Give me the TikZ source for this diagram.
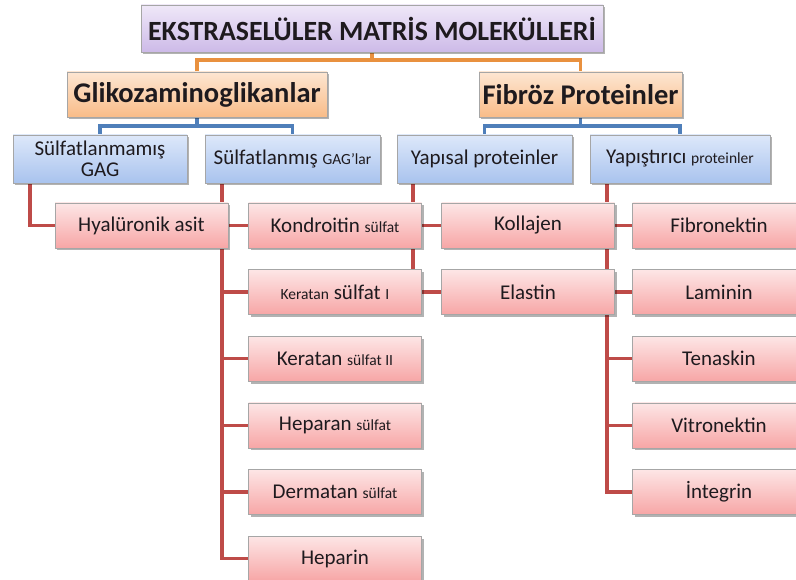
\documentclass[tikz,border=0pt]{standalone}
\usepackage{fontspec}
\setmainfont{Carlito}
\usetikzlibrary{positioning,
	shadows,
	backgrounds}
\definecolor{baslikust}{HTML}{EFE8F8}
\definecolor{baslikalt}{HTML}{CDBAE8}
\definecolor{turuncuust}{HTML}{FDE6D2}
\definecolor{turuncualt}{HTML}{F9BC88}
\definecolor{maviust}{HTML}{DDE8FA}
\definecolor{mavialt}{HTML}{A9C3EE}
\definecolor{pembeust}{HTML}{FDE6E6}
\definecolor{pembealt}{HTML}{F7A6A6}
\definecolor{turuncucizgi}{HTML}{E9913F}
\definecolor{mavicizgi}{HTML}{4F7FBA}
\definecolor{kirmizicizgi}{HTML}{BE4B48}
\definecolor{yazi}{HTML}{1E1A1E}
\newcommand{\kucuk}[1]{{\fontsize{15.5}{17}\selectfont #1}}

\begin{document}
\begin{tikzpicture}[x=1pt, y=-1pt,
	kutu/.style={draw=gray!70, line width=0.6pt, inner sep=0pt, text=yazi,
		drop shadow={shadow xshift=2pt, shadow yshift=-2.5pt, fill=black, opacity=0.3}},
	baslikkutu/.style={kutu, top color=baslikust, bottom color=baslikalt,
		font=\bfseries\fontsize{27.8}{29}\selectfont},
	turuncukutu/.style={kutu, top color=turuncuust, bottom color=turuncualt,
		minimum height=45pt, font=\bfseries\fontsize{28.5}{30}\selectfont},
	mavikutu/.style={kutu, top color=maviust, bottom color=mavialt,
		minimum height=48pt, align=center, font=\fontsize{21}{20.5}\selectfont},
	pembekutu/.style={kutu, top color=pembeust, bottom color=pembealt,
		minimum width=173pt, minimum height=45pt, font=\fontsize{21}{22}\selectfont},
	turuncubag/.style={draw=turuncucizgi, line width=3.6pt},
	mavibag/.style={draw=mavicizgi, line width=3.6pt},
	kirmizibag/.style={draw=kirmizicizgi, line width=3.6pt},
	node distance=21pt]
\useasboundingbox (0,0) rectangle (796,580);

\node (baslik) [baslikkutu, minimum width=462pt, minimum height=47pt] at (372,28.5) {EKSTRASELÜLER MATRİS MOLEKÜLLERİ};
\node (gag) [turuncukutu, minimum width=260pt] at (197,94.5) {Glikozaminoglikanlar};
\node (fibroz) [turuncukutu, minimum width=203pt] at (580.5,94.5) {Fibröz Proteinler};

\node (sulfatsiz) [mavikutu, minimum width=174pt] at (100,159) {Sülfatlanmamış\\GAG};
\node (sulfatli) [mavikutu, minimum width=175pt] at (292.5,159) {Sülfatlanmış \kucuk{GAG'lar}};
\node (yapisal) [mavikutu, minimum width=175pt] at (484.5,159) {Yapısal proteinler};
\node (yapistirici) [mavikutu, minimum width=180pt] at (680,159) {Yapıştırıcı \kucuk{proteinler}};

\node (hyaluronik) [pembekutu] at (141.5,225.5) {Hyalüronik asit};

\node (kondroitin) [pembekutu] at (335,225.5) {Kondroitin \kucuk{sülfat}};
\node (keratanI) [pembekutu, below=of kondroitin] {\kucuk{Keratan} sülfat \kucuk{I}};
\node (keratanII) [pembekutu, below=of keratanI] {Keratan \kucuk{sülfat II}};
\node (heparan) [pembekutu, below=of keratanII] {Heparan \kucuk{sülfat}};
\node (dermatan) [pembekutu, below=of heparan] {Dermatan \kucuk{sülfat}};
\node (heparin) [pembekutu, below=of dermatan] {Heparin};

\node (kollajen) [pembekutu] at (528,225.5) {Kollajen};
\node (elastin) [pembekutu, below=of kollajen] {Elastin};

\node (fibronektin) [pembekutu] at (719,225.5) {Fibronektin};
\node (laminin) [pembekutu, below=of fibronektin] {Laminin};
\node (tenaskin) [pembekutu, below=of laminin] {Tenaskin};
\node (vitronektin) [pembekutu, below=of tenaskin] {Vitronektin};
\node (integrin) [pembekutu, below=of vitronektin] {İntegrin};

\begin{scope}[on background layer]
\draw[turuncubag] (baslik.south) -- ++(0,8) -| (gag.north);
\draw[turuncubag] (baslik.south) -- ++(0,8) -| (fibroz.north);
\draw[mavibag] (gag.south) -- ++(0,9) -| (sulfatsiz.north);
\draw[mavibag] (gag.south) -- ++(0,9) -| (sulfatli.north);
\draw[mavibag] (fibroz.south) -- ++(0,9) -| (yapisal.north);
\draw[mavibag] (fibroz.south) -- ++(0,9) -| (yapistirici.north);
\draw[kirmizibag] (hyaluronik.west) -| ([xshift=17pt]sulfatsiz.south west);
\foreach \alt in {kondroitin, keratanI, keratanII, heparan, dermatan, heparin}
	\draw[kirmizibag] (\alt.west) -| ([xshift=17pt]sulfatli.south west);
\foreach \alt in {kollajen, elastin}
	\draw[kirmizibag] (\alt.west) -| ([xshift=16pt]yapisal.south west);
\foreach \alt in {fibronektin, laminin, tenaskin, vitronektin, integrin}
	\draw[kirmizibag] (\alt.west) -| ([xshift=17pt]yapistirici.south west);
\end{scope}
\end{tikzpicture}
\end{document}
